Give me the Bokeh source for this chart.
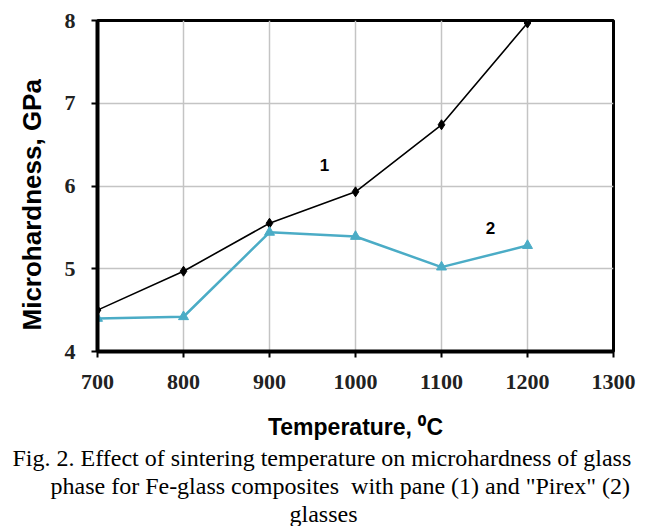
from bokeh.plotting import figure
from bokeh.models import Title, Range1d, FixedTicker
from bokeh.core.properties import value
from bokeh.embed import file_html
from bokeh.resources import INLINE

# ---- data ----
temps = [700, 800, 900, 1000, 1100, 1200]
hard_pane = [4.50, 4.97, 5.55, 5.93, 6.74, 7.97]     # series 1 (pane glass)
hard_pirex = [4.40, 4.42, 5.44, 5.39, 5.02, 5.28]    # series 2 ("Pirex" glass)
x_ticks = [700, 800, 900, 1000, 1100, 1200, 1300]
y_ticks = [4, 5, 6, 7, 8]
series_labels = ["1", "2"]
label_x = [964, 1157]
label_y = [6.25, 5.49]

caption_lines = [
    "Fig. 2. Effect of sintering temperature on microhardness of glass",
    "phase for Fe-glass composites\u00a0 with pane (1) and \"Pirex\" (2)",
    "glasses",
]
caption_offsets = [-85, -47, 192]

p = figure(width=652, height=526, x_range=Range1d(700, 1300), y_range=Range1d(4, 8),
           output_backend="svg", toolbar_location=None,
           min_border_left=97, min_border_right=39, min_border_top=20, min_border_bottom=175)

p.background_fill_color = "white"
p.border_fill_color = "white"
p.outline_line_color = "black"
p.outline_line_width = 3

p.xaxis.ticker = FixedTicker(ticks=x_ticks)
p.yaxis.ticker = FixedTicker(ticks=y_ticks)
for ax in (p.xaxis, p.yaxis):
    ax.axis_line_width = 4
    ax.axis_line_color = "black"
    ax.major_tick_out = 6
    ax.major_tick_in = 0
    ax.major_tick_line_width = 2
    ax.minor_tick_line_color = None
    ax.major_label_text_font = "Liberation Serif"
    ax.major_label_text_font_style = "bold"
    ax.major_label_text_font_size = "22px"
    ax.major_label_text_color = "#222222"
p.xaxis.major_label_standoff = 17
p.yaxis.major_label_standoff = 16

p.xaxis.axis_label = "Temperature, \u2070C"
p.xaxis.axis_label_text_font = "Liberation Sans"
p.xaxis.axis_label_text_font_style = "bold"
p.xaxis.axis_label_text_font_size = "23px"
p.xaxis.axis_label_text_color = "black"
p.xaxis.axis_label_standoff = 22

p.grid.grid_line_color = "#c4c4c4"
p.grid.grid_line_width = 1.5

# series
p.line(temps, hard_pane, line_color="black", line_width=1.6)
p.scatter(temps, hard_pane, marker="diamond", size=10, color="black")
p.line(temps, hard_pirex, line_color="#4BACC6", line_width=2.5)
p.scatter(temps, hard_pirex, marker="triangle", size=10, color="#4BACC6")

p.text(x=label_x, y=label_y, text=series_labels, text_align="center", text_baseline="middle",
       text_font=value("Liberation Sans"), text_font_style="bold", text_font_size="17px",
       text_color="black")

ytitle = Title(text="Microhardness, GPa", align="left", offset=21,
               text_font="Liberation Sans", text_font_style="bold", text_font_size="26px",
               text_color="black", standoff=29)
p.add_layout(ytitle, "left")

for line, off in zip(caption_lines, caption_offsets):
    t = Title(text=line, align="left", offset=off,
              text_font="Liberation Serif", text_font_style="normal", text_font_size="24px",
              text_color="black", standoff=0)
    p.add_layout(t, "below")

open("out.html", "w").write(file_html(p, INLINE))
